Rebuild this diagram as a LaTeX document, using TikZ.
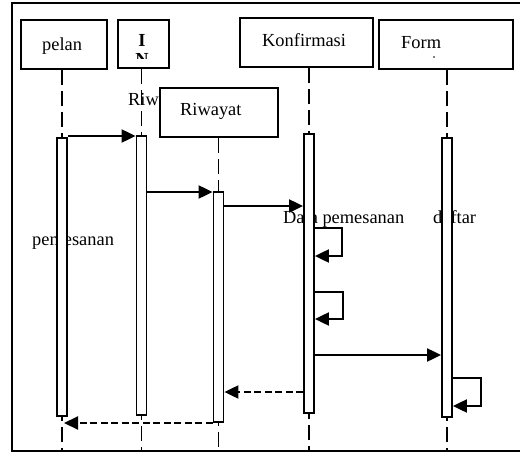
\documentclass[tikz,border=0pt]{standalone}
\usepackage{fontspec}
\setmainfont{Liberation Serif}
\usetikzlibrary{arrows.meta}

\tikzset{
  head/.style={draw, line width=2pt, rectangle, inner sep=0pt},
  bar/.style={draw, line width=1.8pt, fill=white, rectangle, inner sep=0pt, minimum width=10pt, anchor=north},
  lifeline/.style={line width=1.8pt, dash pattern=on 15pt off 6pt},
  msg/.style={line width=2pt, -{Triangle[length=14pt,width=13pt]}},
  reply/.style={msg, dash pattern=on 7pt off 3.5pt},
  txt/.style={inner sep=0pt, anchor=base west, font=\fontsize{18.4}{20}\selectfont}
}

\begin{document}
\begin{tikzpicture}[x=1pt,y=-1pt]
        \useasboundingbox (0,0) rectangle (520,461);

        % Frame (cut off on the right)
        \draw[line width=2pt] (520,3) -- (12,3) -- (12,451) -- (520,451);
        \coordinate (bottom) at (0,451);

        % Heads
        \node[head, minimum width=86pt, minimum height=49pt] (pelanbox) at (64,44.5) {};
        \node[head, minimum width=51pt, minimum height=48pt] (ibox) at (143.5,44) {};
        \node[head, minimum width=133pt, minimum height=49pt] (konfbox) at (306.5,42.5) {};
        \node[head, minimum width=134pt, minimum height=49pt] (formbox) at (446,44.5) {};
        \node[txt] at (42,50) {pelan};
        \node[txt, anchor=base] at (142,46) {\textbf{I}};
        \begin{scope}
          \clip (120,50) rectangle (166,58);
          \node[txt, anchor=base] at (142,65) {\textbf{N}};
        \end{scope}
        \node[txt] at (262,46) {Konfirmasi};
        \node[txt] at (401,48) {Form};
        \fill (434,57) circle (0.9pt);

        % Texts lying under the bars
        \node[txt] at (128,105) {Riw};
        \node[txt] at (32,245) {pemesanan};
        \node[txt] at (283,223) {Data pemesanan};
        \node[txt] at (433,223) {daftar};

        % Riwayat head
        \node[head, fill=white, minimum width=118pt, minimum height=49pt] (riwbox) at (219,112.5) {};
        \node[txt] at (180,115) {Riwayat};

        % Bars
        \coordinate (pelanx) at (62,0);
        \coordinate (ix) at (141.5,0);
        \coordinate (riwx) at (218.5,0);
        \coordinate (konfx) at (309,0);
        \coordinate (formx) at (447,0);

        % Lifelines
        \draw[lifeline] (pelanx |- pelanbox.south) -- (pelanx |- bottom);
        \draw[lifeline] (ix |- ibox.south) -- (ix |- bottom);
        \draw[lifeline] (riwx |- riwbox.south) -- (riwx |- bottom);
        \draw[lifeline] (konfx |- konfbox.south) -- (konfx |- bottom);
        \draw[lifeline] (formx |- formbox.south) -- (formx |- bottom);

        \node[bar, minimum height=278pt] (pelanbar) at (62,137) {};
        \node[bar, minimum height=279pt] (ibar) at (141.5,135) {};
        \node[bar, minimum height=230pt] (riwbar) at (218.5,191) {};
        \node[bar, minimum height=279pt] (konfbar) at (309,133) {};
        \node[bar, minimum height=279pt] (formbar) at (447,137) {};

        % Messages
        \coordinate (m1) at (0,136);
        \coordinate (m2) at (0,192);
        \coordinate (m3) at (0,206);
        \coordinate (m4) at (0,355);
        \coordinate (r1) at (0,392);
        \coordinate (r2) at (0,423);
        \draw[msg] (pelanbar.east |- m1) -- (ibar.west |- m1);
        \draw[msg] (ibar.east |- m2) -- (riwbar.west |- m2);
        \draw[msg] (riwbar.east |- m3) -- (konfbar.west |- m3);
        \draw[msg] (konfbar.east |- m4) -- (formbar.west |- m4);

        % Self calls
        \coordinate (s1) at (0,228);
        \coordinate (s1b) at (0,256);
        \coordinate (s2) at (0,292);
        \coordinate (s2b) at (0,319);
        \coordinate (s3) at (0,378);
        \coordinate (s3b) at (0,406);
        \draw[msg] (konfbar.east |- s1) -- ++(27,0) |- (konfbar.east |- s1b);
        \draw[msg] (konfbar.east |- s2) -- ++(28,0) |- (konfbar.east |- s2b);
        \draw[msg] (formbar.east |- s3) -- ++(28,0) |- (formbar.east |- s3b);

        % Replies
        \draw[reply] (konfbar.west |- r1) -- (riwbar.east |- r1);
        \draw[reply] (riwbar.west |- r2) -- ([xshift=2pt]pelanx |- r2);
    \end{tikzpicture}
\end{document}
